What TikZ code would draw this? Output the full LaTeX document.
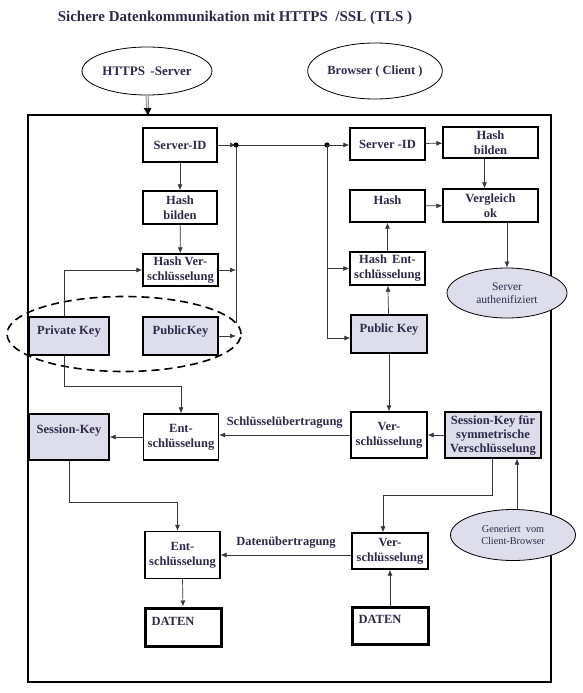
\documentclass[tikz,border=0pt]{standalone}
\usepackage{fontspec}
\setmainfont{Liberation Serif}
\usetikzlibrary{calc,arrows.meta,shapes.geometric}
\definecolor{ink}{HTML}{2C2A48}
\definecolor{keyfill}{HTML}{DDDDEB}
\definecolor{wire}{HTML}{3A3640}
\tikzset{
  box/.style={draw=black, line width=1.3pt, fill=white, text=ink, align=center,
    inner sep=1pt, font=\fontsize{12.5}{15}\selectfont\bfseries},
  keybox/.style={box, fill=keyfill},
  databox/.style={box, line width=3pt},
  oval/.style={ellipse, draw=black, line width=0.8pt, text=ink, align=center,
    inner sep=0pt, font=\fontsize{11.5}{13.5}\selectfont},
  flow/.style={draw=wire, line width=0.7pt, -{Latex[length=6pt,width=5pt]}},
  flowlabel/.style={above=3pt, text=ink, font=\fontsize{12.5}{14}\selectfont\bfseries},
}

\begin{document}
\begin{tikzpicture}[x=1pt, y=-1pt]
\useasboundingbox (0,0) rectangle (582,693);
\node[text=ink, font=\fontsize{15}{17}\selectfont\bfseries] (title) at (235,18)
  {Sichere Datenkommunikation mit HTTPS \ /SSL (TLS )};

% Server und Client
\node[oval, fill=white, minimum width=130pt, minimum height=48pt,
  font=\fontsize{13}{15}\selectfont\bfseries] (srv) at (147,71) {HTTPS \,-Server};
\node[oval, fill=white, minimum width=94pt, minimum height=56pt,
  font=\fontsize{12.5}{14}\selectfont\bfseries] (brw) at (375,71) {Browser ( Client )};

% Rahmen
\draw[line width=2pt] (28,115) rectangle (551,682);
\coordinate (top) at (148,116);
\draw[draw=gray, double=gray!30, double distance=1.6pt, line width=0.7pt,
  -{Latex[length=8pt,width=8pt,black]}] (srv.south) -- (top);

% einfache Kaesten
\foreach \n/\x/\y/\w/\h/\t in {
  sid/180/145/74/34/{Server-ID},
  hashL/180/207.5/74/33/{Hash\\bilden},
  hver/180.5/270/75/32/{Hash Ver-\\schlüsselung},
  entA/181/437/75/46/{Ent-\\schlüsselung},
  entB/182.5/555/75/47/{Ent-\\schlüsselung},
  sidR/387.5/144/75/32/{Server -ID},
  hashR/490.5/142.5/95/31/{Hash\\bilden},
  hashC/387.5/206/75/32/{Hash\\[-3pt]~},
  vgl/490.5/205.5/95/33/{Vergleich\\ok},
  hent/387.5/268.5/75/33/{Hash \,Ent-\\schlüsselung},
  verA/389/435/76/46/{Ver-\\schlüsselung},
  verB/390/551/76/36/{Ver-\\schlüsselung}}
  {\node[box, minimum width=\w pt, minimum height=\h pt] (\n) at (\x,\y) {\t};}

% Schluessel
\foreach \n/\x/\y/\w/\h/\t in {
  priv/69/336/80/38/{Private Key\\[-3pt]~},
  pub/180.5/336/75/38/{PublicKey\\[-3pt]~},
  sesL/69/437/80/46/{Session-Key\\~},
  pubR/389/334/76/38/{Public Key\\[-3pt]~},
  sesR/493/435/96/46/{Session-Key für\\[-1pt]symmetrische\\[-1pt]Verschlüsselung}}
  {\node[keybox, minimum width=\w pt, minimum height=\h pt] (\n) at (\x,\y) {\t};}

% Daten
\node[databox, minimum width=76pt, minimum height=38pt] (datL) at (183,627)
  {DATEN\hspace*{20pt}\\[-3pt]~};
\node[databox, minimum width=76pt, minimum height=37pt] (datR) at (390,625.5)
  {DATEN\hspace*{20pt}\\[-3pt]~};

% Ellipsen
\node[oval, fill=keyfill, minimum width=120pt, minimum height=50pt] (auth) at (507,293)
  {Server\\authenifiziert};
\node[oval, fill=keyfill, minimum width=125pt, minimum height=51pt,
  font=\fontsize{10.3}{12}\selectfont] (gen) at (513,535)
  {Generiert \ vom\\Client-Browser};
\node[ellipse, draw=black, line width=1.6pt, dash pattern=on 8pt off 5pt,
  minimum width=234pt, minimum height=75pt] (pair) at (124,334) {};

% Verbindungen Server
\coordinate (j1) at (236,145);
\coordinate (j2) at (327,145);
\coordinate (j3) at (236,323);
\draw[flow] (sid.east) -- (j1);
\draw[draw=wire, line width=0.7pt] (j1) -- (j2) (j1) -- (j3);
\fill[black] (j1) circle (2.6pt) (j2) circle (2.6pt);
\draw[flow] (j2) -- (j2 -| sidR.west);
\draw[flow] (j2) |- (hent.west);
\draw[flow] (j2) |- ([yshift=-4pt]pubR.west);
\draw[flow] (sid) -- (hashL);
\draw[flow] (hashL) -- (hver);
\draw[flow] (hver.east) -- (hver.east -| j1);
\draw[flow] (pub.east) -- (pub.east -| j1);
\draw[flow] ([xshift=-5pt]priv.north) |- (hver.west);
\coordinate (k1) at (64,386);
\draw[flow] ([xshift=-5pt]priv.south) -- (k1) -| (entA.north);
\draw[flow] (entA.west) -- (sesL.east);
\draw[flow] (verA.west) -- node[flowlabel] {Schlüsselübertragung} (verA.west -| entA.east);
\coordinate (k2) at (69,502);
\draw[flow] (sesL.south) -- (k2) -| ([xshift=-5pt]entB.north);
\draw[flow] (entB.south) -- (datL.north);
\draw[flow] (entB.east -| verB.west) -- node[flowlabel] {Datenübertragung} (entB.east);

% Verbindungen Client
\draw[flow] (sidR) -- (hashR);
\draw[flow] ([xshift=-6pt]hashR.south) -- ([xshift=-6pt]vgl.north);
\draw[flow] (hashC) -- (vgl);
\draw[flow] (hent) -- (hashC);
\draw[flow] (pubR) -- (hent);
\draw[flow] (auth.north |- vgl.south) -- (auth.north);
\draw[flow] (pubR) -- (verA);
\draw[flow] (sesR) -- (verA);
\coordinate (k3) at (492,495);
\draw[flow] (k3 |- sesR.south) -- (k3) -| ([xshift=-7pt]verB.north);
\draw[flow] ([xshift=4pt]gen.north) -- ([xshift=4pt]gen.north |- sesR.south);
\draw[flow] (datR) -- (verB);
\end{tikzpicture}
\end{document}
